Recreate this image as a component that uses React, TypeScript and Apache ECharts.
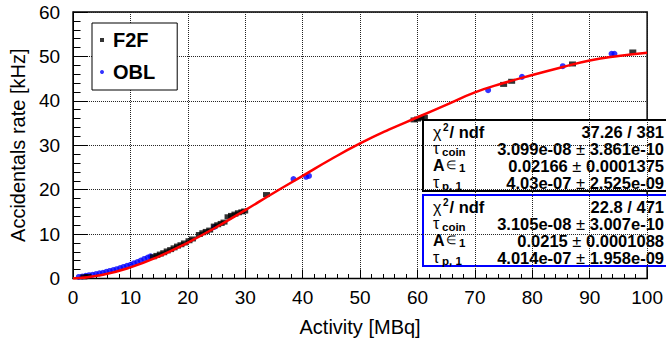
import React, { useEffect, useRef } from "react";
import * as echarts from "echarts";

// F2F measurements: activity [MBq] and accidentals rate [kHz]
const f2fActivity = [
  1.9, 2.6,
  14.0, 14.6, 15.2, 15.8, 16.4, 17.0, 17.6,
  18.2, 18.8, 19.4, 20.2, 20.8,
  22.0, 22.6, 23.2, 23.8,
  24.6, 25.2, 25.8, 26.3,
  27.0, 27.6, 28.2, 28.8, 29.4, 29.9,
  33.7,
  59.4, 60.0, 60.6, 61.2,
  75.0, 76.4,
  87.0,
  97.5,
];
const f2fRate = [
  0.35, 0.45,
  4.9, 5.2, 5.5, 5.8, 6.2, 6.5, 6.9,
  7.3, 7.6, 8.0, 8.5, 8.9,
  9.9, 10.3, 10.6, 10.9,
  11.8, 12.1, 12.4, 12.7,
  13.9, 14.2, 14.5, 14.8, 15.0, 15.2,
  18.9,
  35.7, 35.9, 36.1, 36.3,
  43.7, 44.4,
  48.3,
  51.0,
];

// OBL measurements
const oblActivity = [
  1.0, 1.6, 2.2, 2.8, 3.4, 4.0, 4.6, 5.2, 5.8, 6.4, 7.0, 7.6, 8.2, 8.8, 9.4,
  10.0, 10.6, 11.2, 11.8, 12.4, 13.0, 13.5,
  24.6,
  38.4, 40.6, 41.1,
  72.3,
  78.2,
  85.3,
  93.8, 94.3,
];
const oblRate = [
  0.35, 0.45, 0.6, 0.75, 0.85, 1.0, 1.15, 1.3, 1.5, 1.7, 1.9, 2.1, 2.35, 2.6, 2.85,
  3.1, 3.4, 3.7, 4.05, 4.4, 4.7, 5.0,
  11.6,
  22.4, 22.9, 23.1,
  42.4,
  45.4,
  47.8,
  50.6, 50.6,
];

// Fitted model curve
const fitActivity = [0, 5, 10, 15, 20, 25, 30, 35, 40, 45, 50, 55, 60, 65, 70, 75, 80, 85, 90, 95, 100];
const fitRate = [0, 0.8, 2.5, 5.0, 8.1, 11.6, 15.4, 19.3, 23.1, 26.9, 30.4, 33.5, 36.3, 39.1, 41.9, 44.0, 45.8, 47.5, 49.1, 50.1, 50.8];

// Fit statistics
const f2fFitValues = [
  ["37.26 / 381"],
  ["3.099e-08", "3.861e-10"],
  ["0.02166", "0.0001375"],
  ["4.03e-07", "2.525e-09"],
];
const oblFitValues = [
  ["22.8 / 471"],
  ["3.105e-08", "3.007e-10"],
  ["0.0215", "0.0001088"],
  ["4.014e-07", "1.958e-09"],
];

const FONT = "'Liberation Sans', Arial, Helvetica, sans-serif";

const zip = (xs: number[], ys: number[]) => xs.map((x, i) => [x, ys[i]]);

function statBox(top: number, border: string, values: string[][]) {
  const left = 423;
  const width = 245;
  const height = 71;
  const rowY = [12, 29, 45.5, 62.5];
  const lx = left + 10;
  const children: any[] = [
    {
      type: "rect",
      shape: { x: left, y: top, width, height },
      style: { fill: "#fff", stroke: border, lineWidth: 2 },
    },
  ];
  const t = (x: number, y: number, text: string, size: number, bold: boolean) => ({
    type: "text",
    x,
    y,
    style: {
      text,
      fontFamily: FONT,
      fontSize: size,
      fontWeight: bold ? "bold" : "normal",
      fill: "#000",
      align: "left",
      verticalAlign: "middle",
    },
  });
  const y0 = top + rowY[0];
  const y1 = top + rowY[1];
  const y2 = top + rowY[2];
  const y3 = top + rowY[3];
  // row labels with super/subscripts
  children.push(t(lx, y0, "χ", 16, false));
  children.push(t(lx + 10, y0 - 5, "2", 10, true));
  children.push(t(lx + 16.5, y0, "/ ndf", 16.5, true));
  children.push(t(lx, y1 - 1, "τ", 16, false));
  children.push(t(lx + 9, y1 + 3, "coin", 11.5, true));
  children.push(t(lx, y2, "A", 16, true));
  children.push(t(lx + 13, y2 - 1, "∈", 12, false));
  children.push(t(lx + 26, y2 + 2.5, "1", 11.5, true));
  children.push(t(lx, y3 - 0.5, "τ", 16, false));
  children.push(t(lx + 9, y3 + 3, "p, 1", 11.5, true));
  // values, right aligned
  const rx = 664;
  const ys = [y0, y1, y2, y3];
  values.forEach((v, i) => {
    const text = v.length === 1 ? `{b|${v[0]}}` : `{b|${v[0]} }{pm|±}{b| ${v[1]}}`;
    children.push({
      type: "text",
      x: rx,
      y: ys[i],
      style: {
        text,
        align: "right",
        verticalAlign: "middle",
        fill: "#000",
        rich: {
          b: { fontFamily: FONT, fontSize: 16.5, fontWeight: "bold", fill: "#000" },
          pm: { fontFamily: FONT, fontSize: 16.5, fontWeight: "normal", fill: "#000" },
        },
      },
    });
  });
  return { type: "group", children };
}

export default function App() {
  const ref = useRef<HTMLDivElement>(null);
  useEffect(() => {
    if (!ref.current) return;
    const chart = echarts.init(ref.current, undefined, { renderer: "svg" });
    const axisCommon = {
      type: "value",
      axisLine: { show: true, onZero: false, lineStyle: { color: "#000", width: 1 } },
      splitLine: { show: true, lineStyle: { type: "dotted", color: "#222", width: 1 } },
      axisLabel: { color: "#000", fontFamily: FONT, fontSize: 19 },
      nameLocation: "middle",
      nameTextStyle: { color: "#000", fontFamily: FONT, fontSize: 20 },
    };
    chart.setOption({
      animation: false,
      backgroundColor: "#fff",
      textStyle: { fontFamily: FONT },
      grid: {
        left: 71,
        right: 18,
        top: 12,
        bottom: 67.5,
        show: true,
        borderColor: "#000",
        borderWidth: 1.5,
        backgroundColor: "transparent",
      },
      xAxis: {
        ...axisCommon,
        min: 0,
        max: 100,
        interval: 10,
        name: "Activity [MBq]",
        nameGap: 38,
        axisTick: { show: true, inside: true, length: 9, lineStyle: { color: "#000" } },
        minorTick: { show: true, splitNumber: 5, length: 4.5, lineStyle: { color: "#000" } },
        axisLabel: { ...axisCommon.axisLabel, margin: 9 },
      },
      yAxis: {
        ...axisCommon,
        min: 0,
        max: 60,
        interval: 10,
        name: "Accidentals rate [kHz]",
        nameGap: 42,
        axisTick: { show: true, inside: true, length: 15, lineStyle: { color: "#000" } },
        minorTick: { show: true, splitNumber: 5, length: 7.5, lineStyle: { color: "#000" } },
        axisLabel: { ...axisCommon.axisLabel, margin: 13 },
      },
      legend: {
        data: [
          { name: "F2F", icon: "rect" },
          { name: "OBL", icon: "circle" },
        ],
        orient: "vertical",
        left: 92,
        top: 23,
        padding: [7, 22, 8, 8],
        itemGap: 12,
        itemWidth: 4,
        itemHeight: 4,
        backgroundColor: "#fff",
        borderColor: "#000",
        borderWidth: 1,
        borderRadius: 0,
        textStyle: { color: "#000", fontFamily: FONT, fontSize: 20, fontWeight: "bold", padding: [0, 0, 0, 4] },
      },
      series: [
        {
          name: "OBL",
          type: "scatter",
          data: zip(oblActivity, oblRate),
          symbol: "circle",
          symbolSize: 6,
          itemStyle: { color: "#0000ff" },
          z: 2,
        },
        {
          name: "F2F",
          type: "scatter",
          data: zip(f2fActivity, f2fRate),
          symbol: "rect",
          symbolSize: [7, 5],
          itemStyle: { color: "#000" },
          z: 3,
        },
        {
          name: "fit",
          type: "line",
          data: zip(fitActivity, fitRate),
          smooth: true,
          showSymbol: false,
          lineStyle: { color: "#ff0000", width: 2.5 },
          z: 4,
        },
      ],
      graphic: [
        statBox(120, "#000", f2fFitValues),
        statBox(195, "#0000ff", oblFitValues),
      ],
    });
    return () => chart.dispose();
  }, []);
  return <div ref={ref} style={{ position: "fixed", left: 0, top: 0, width: 666, height: 346 }} />;
}
